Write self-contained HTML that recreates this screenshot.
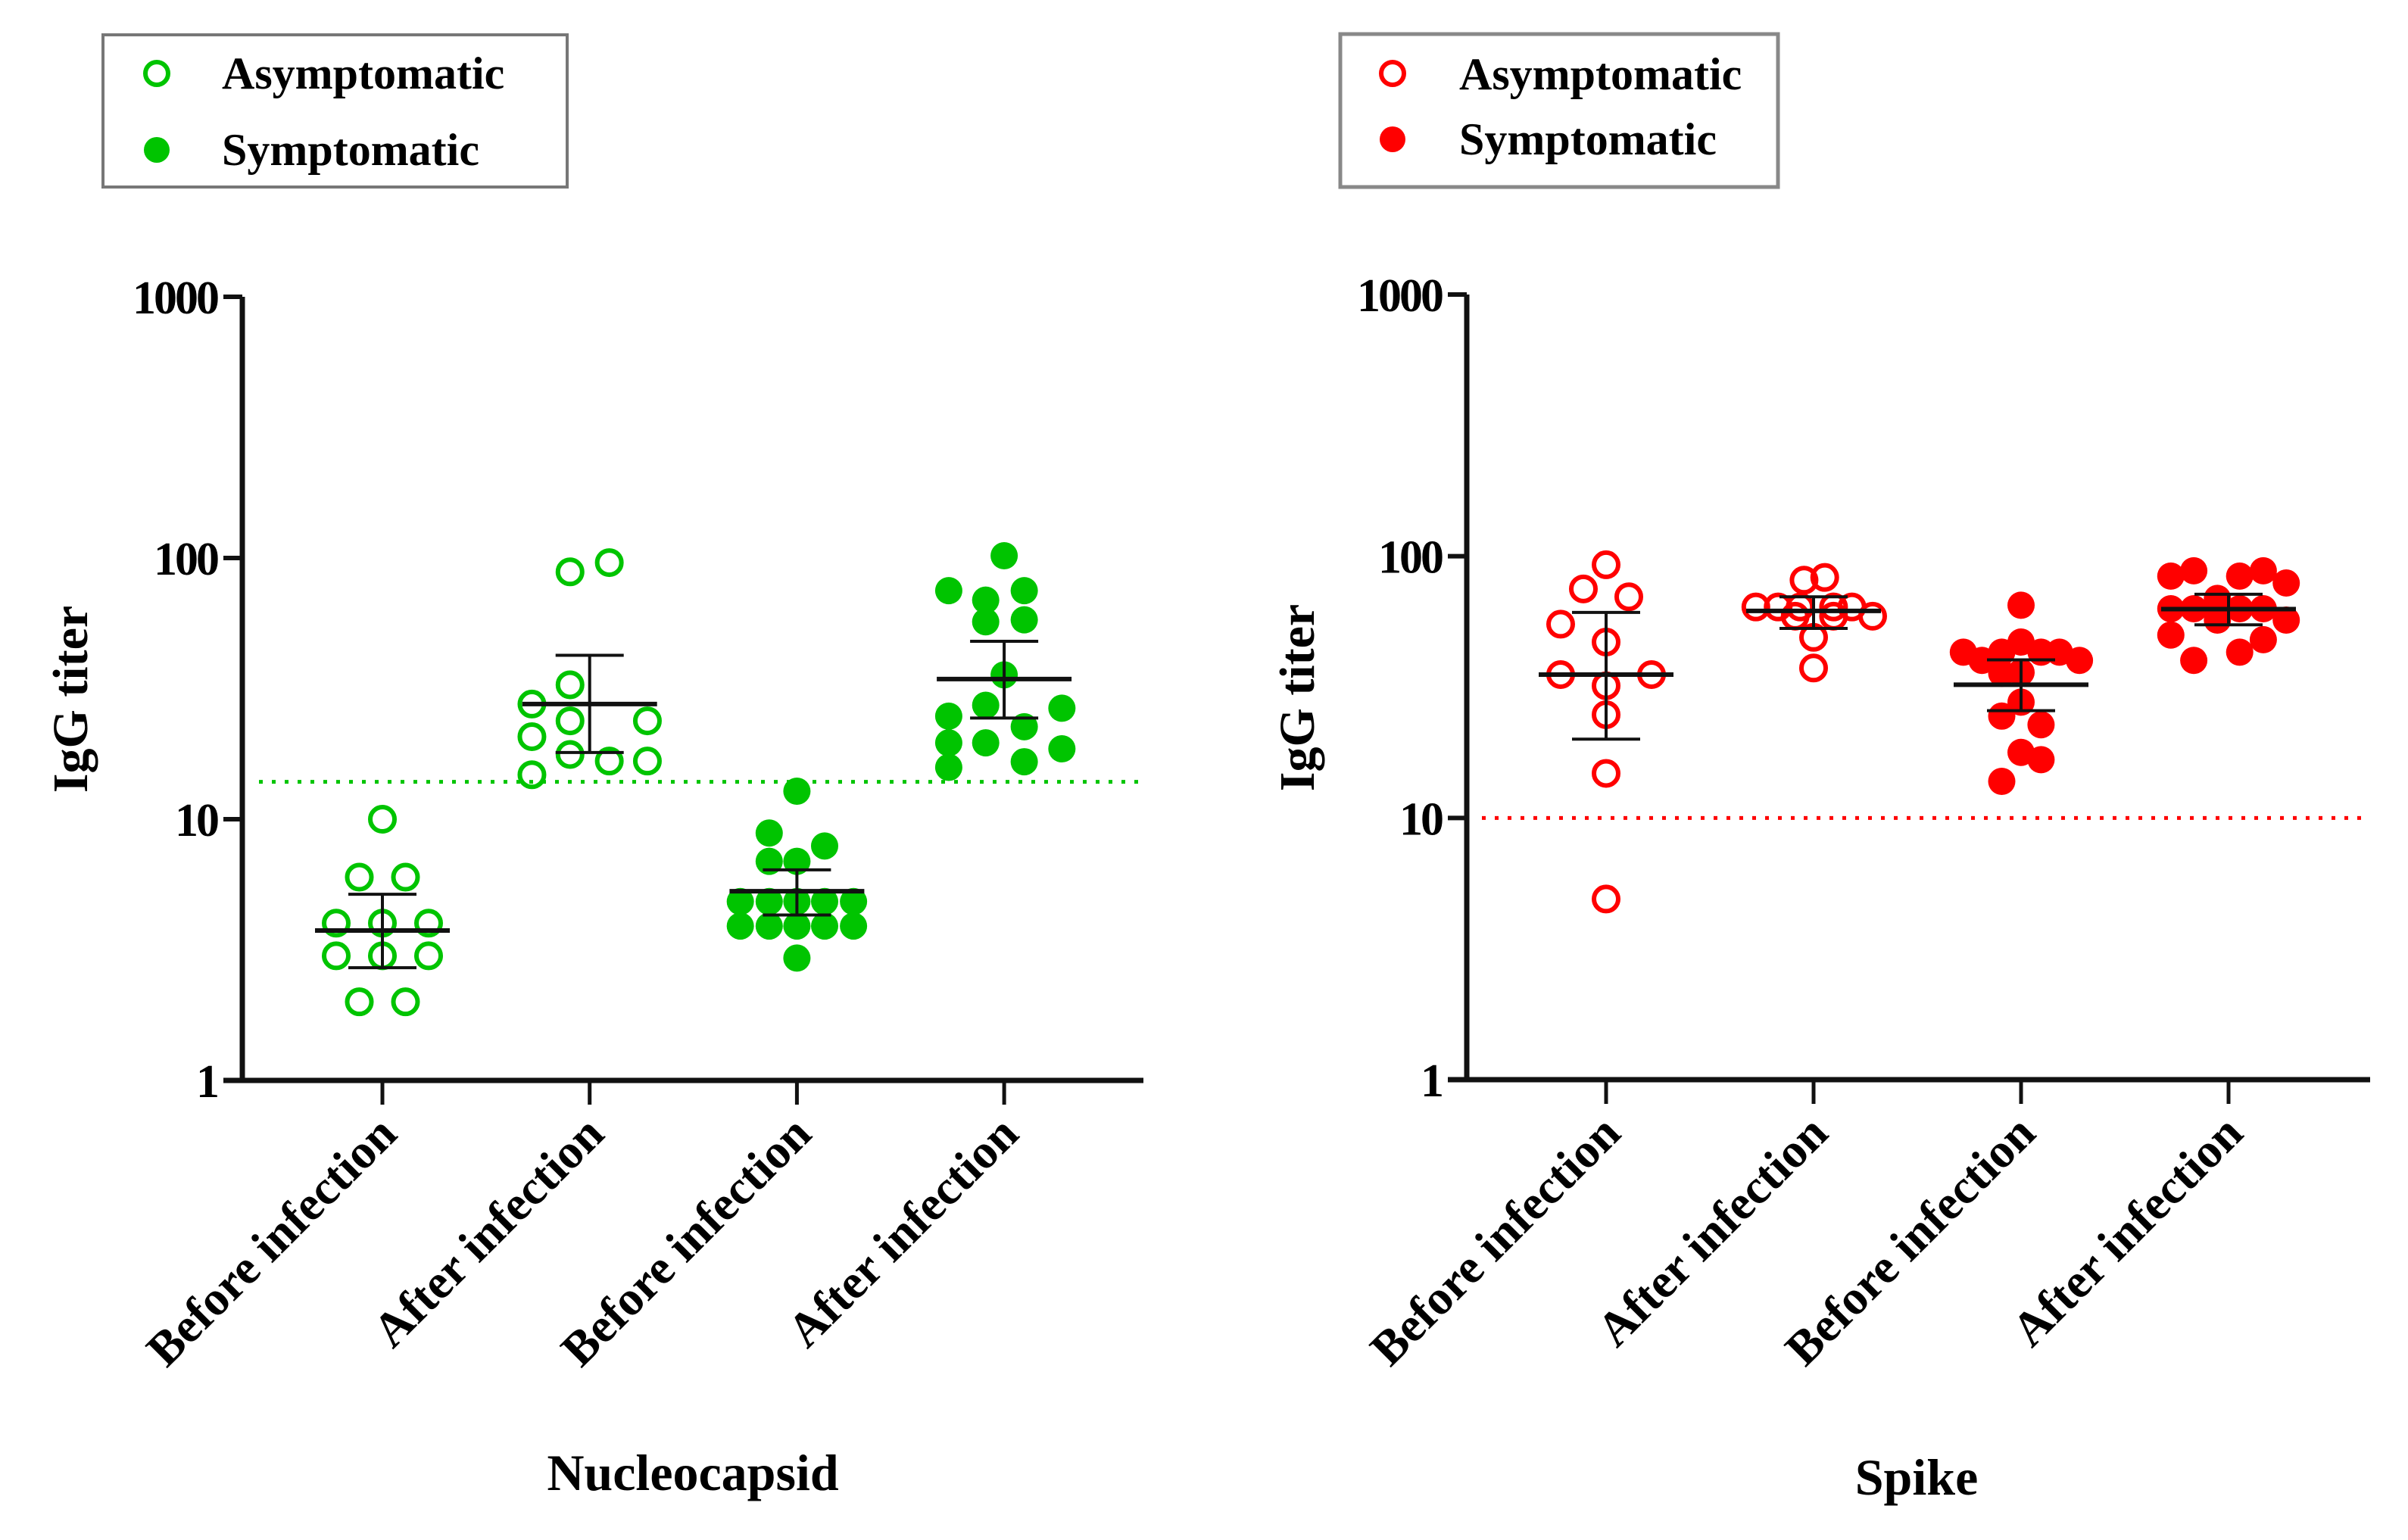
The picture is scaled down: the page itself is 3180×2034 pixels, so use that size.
<!DOCTYPE html>
<html><head><meta charset="utf-8"><style>
html,body{margin:0;padding:0;background:#fff;}
svg{display:block;font-family:"Liberation Serif",serif;font-weight:bold;}
</style></head><body>
<svg id="chart" width="3180" height="2034" viewBox="0 0 3180 2034" xmlns="http://www.w3.org/2000/svg">
<rect width="3180" height="2034" fill="#fff"/>
<g>
<rect x="136" y="46" width="613" height="201" fill="#fff" stroke="#777" stroke-width="4"/>
<circle cx="207" cy="97" r="15" fill="none" stroke="#00c400" stroke-width="6"/>
<text x="293" y="117" font-size="60">Asymptomatic</text>
<circle cx="207" cy="198" r="17" fill="#00c400"/>
<text x="293" y="218" font-size="60">Symptomatic</text>
</g>
<g>
<rect x="1770" y="45" width="578" height="202" fill="#fff" stroke="#888" stroke-width="5"/>
<circle cx="1839" cy="97" r="15" fill="none" stroke="#f00" stroke-width="6"/>
<text x="1927" y="118" font-size="60">Asymptomatic</text>
<circle cx="1839" cy="184" r="17" fill="#f00"/>
<text x="1927" y="204" font-size="60">Symptomatic</text>
</g>
</svg>
<script>
const categories = ["Before infection","After infection","Before infection","After infection"];
const yTickValues = [1,10,100,1000];
const yTickLabels = ["1","10","100","1000"];

const nucG1Values = [10,6,6,4,4,4,3,3,3,2,2];
const nucG1Jitter = [0,-1,1,-2,0,2,-2,0,2,-1,1];
const nucG2Values = [88.5,96,32.7,27.6,23.8,23.8,20.7,17.7,16.7,16.7,14.8];
const nucG2Jitter = [-0.85,0.85,-0.85,-2.5,-0.85,2.5,-2.5,-0.85,0.85,2.5,-2.5];
const nucG3Values = [12.8,8.85,7.9,6.9,6.9,4.84,4.84,4.84,4.84,4.84,3.9,3.9,3.9,3.9,3.9,2.94];
const nucG3Jitter = [0,-1.2,1.2,-1.2,0,-2.45,-1.2,0,1.2,2.45,-2.45,-1.2,0,1.2,2.45,0];
const nucG4Values = [102,75,75,69,57,58,35.7,24.8,27.3,26.6,22.6,19.6,19.6,18.6,16.6,15.8];
const nucG4Jitter = [0,-2.4,0.87,-0.8,-0.8,0.87,0,-2.4,-0.8,2.5,0.87,-2.4,-0.8,2.5,0.87,-2.4];
const nucMeans = [3.75,27.6,5.3,34.4];
const nucErrHigh = [5.16,42.4,6.4,48];
const nucErrLow = [2.7,18,4.3,24.4];
const nucThreshold = 13.9;

const spkG1Values = [92.8,75,70,55,47,35.3,35.3,32,24.8,14.8,4.9];
const spkG1Jitter = [0,-1,1,-2,0,-2,2,0,0,0,0];
const spkG2Values = [81,83,64,64,64,64,64,59,59,59,49,37.4];
const spkG2Jitter = [-0.42,0.49,-2.54,-1.56,-0.59,0.88,1.69,-0.81,0.88,2.6,0,0];
const spkG3Values = [65,47,43,43,43,43,40,40,35.7,36,27.7,24.5,22.7,17.8,16.7,13.8];
const spkG3Jitter = [0,0,-2.54,-0.85,0.88,1.69,-1.72,2.57,-0.85,0,0,-0.85,0.88,0,0.88,-0.85];
const spkG4Values = [88,88,84,84,79,69,63,63,63,63,57,57,50,48,43,40];
const spkG4Jitter = [-1.53,1.53,-2.54,0.49,2.54,-0.49,-2.54,-1.53,0.49,1.53,-0.49,2.54,-2.54,1.53,0.49,-1.53];
const spkMeans = [35.3,61.8,32.3,62.8];
const spkErrHigh = [61,70,40.2,71.6];
const spkErrLow = [20,53,25.7,54.7];
const spkThreshold = 10;

const NS = "http://www.w3.org/2000/svg";
const svg = document.getElementById('chart');
function mk(tag, attrs, parent){
  const e = document.createElementNS(NS, tag);
  for (const k in attrs) e.setAttribute(k, attrs[k]);
  (parent||svg).appendChild(e);
  return e;
}

function drawPanel(cfg){
  const g = mk('g', {});
  
  
  const yScale = v => cfg.yBottom - (cfg.yBottom - cfg.yTop) * Math.log10(v) / 3;
  const xScale = i => cfg.cat0 + i * cfg.catStep;
  const th = mk('line', {x1: cfg.thX1, x2: cfg.thX2, y1: yScale(cfg.threshold), y2: yScale(cfg.threshold), stroke: cfg.color, 'stroke-width': 5, 'stroke-dasharray': '5 12'}, g);
  
  
  cfg.groups.forEach((grp, gi) => {
    grp.values.forEach((v, pi) => {
      const open = gi < 2;
      const c = mk('circle', {cx: xScale(gi) + grp.jitter[pi] * cfg.unit, cy: yScale(v), r: open ? 16 : 18,
        fill: open ? 'none' : cfg.color, stroke: open ? cfg.color : 'none', 'stroke-width': 6}, g);
      
      
    });
  });
  cfg.means.forEach((m, i) => {
    const x = xScale(i);
    const vl = mk('line', {x1: x, x2: x, y1: yScale(cfg.hi[i]), y2: yScale(cfg.lo[i]), stroke: '#111', 'stroke-width': 4}, g);
    
    
    [cfg.hi[i], cfg.lo[i]].forEach(v => {
      const cap = mk('line', {x1: x - 45, x2: x + 45, y1: yScale(v), y2: yScale(v), stroke: '#111', 'stroke-width': 4}, g);
      
      
    });
    const ml = mk('line', {x1: x - 89, x2: x + 89, y1: yScale(m), y2: yScale(m), stroke: '#111', 'stroke-width': 6}, g);
    
    
  });
  const ya = mk('line', {x1: cfg.axisX, x2: cfg.axisX, y1: cfg.yTop, y2: cfg.yBottom + 3, stroke: '#111', 'stroke-width': 7}, g);
  
  
  const xa = mk('line', {x1: cfg.axisX - 25, x2: cfg.xEnd, y1: cfg.yBottom, y2: cfg.yBottom, stroke: '#111', 'stroke-width': 7}, g);
  
  
  yTickValues.forEach((v, i) => {
    const y = yScale(v);
    const t = mk('line', {x1: cfg.axisX - 25, x2: cfg.axisX, y1: y, y2: y, stroke: '#111', 'stroke-width': 6}, g);
    
    
    const lb = mk('text', {x: cfg.axisX - 33, y: y + 22, 'text-anchor': 'end', 'font-size': 62, 'letter-spacing': -3}, g);
    lb.textContent = yTickLabels[i];
    
    
  });
  categories.forEach((c, i) => {
    const x = xScale(i);
    const t = mk('line', {x1: x, x2: x, y1: cfg.yBottom, y2: cfg.yBottom + 32, stroke: '#111', 'stroke-width': 5}, g);
    
    
    const lb = mk('text', {x: 0, y: 0, 'text-anchor': 'end', 'font-size': 64,
      transform: `translate(${x + 22},${cfg.yBottom + 74}) rotate(-45)`}, g);
    lb.textContent = c;
    
    
  });
  const yt = mk('text', {x: 0, y: 0, 'text-anchor': 'middle', 'font-size': 66,
    transform: `translate(${cfg.yTitleX},${(cfg.yTop + cfg.yBottom) / 2 + 14}) rotate(-90)`}, g);
  yt.textContent = 'IgG titer';
  
  
  const xt = mk('text', {x: cfg.xTitleX, y: cfg.xTitleY, 'text-anchor': 'middle', 'font-size': 68}, g);
  xt.textContent = cfg.title;
  
  
}

drawPanel({name: 'nucleocapsid-panel', color: '#00c400', yTop: 392, yBottom: 1427, axisX: 320, xEnd: 1510,
  cat0: 505, catStep: 273.7, unit: 30.5, thX1: 342, thX2: 1512, threshold: nucThreshold,
  groups: [{values: nucG1Values, jitter: nucG1Jitter}, {values: nucG2Values, jitter: nucG2Jitter},
           {values: nucG3Values, jitter: nucG3Jitter}, {values: nucG4Values, jitter: nucG4Jitter}],
  means: nucMeans, hi: nucErrHigh, lo: nucErrLow, yTitleX: 115, xTitleX: 915, xTitleY: 1968, title: 'Nucleocapsid'});

drawPanel({name: 'spike-panel', color: '#f00', yTop: 389, yBottom: 1426, axisX: 1937, xEnd: 3130,
  cat0: 2121, catStep: 274, unit: 30, thX1: 1957, thX2: 3125, threshold: spkThreshold,
  groups: [{values: spkG1Values, jitter: spkG1Jitter}, {values: spkG2Values, jitter: spkG2Jitter},
           {values: spkG3Values, jitter: spkG3Jitter}, {values: spkG4Values, jitter: spkG4Jitter}],
  means: spkMeans, hi: spkErrHigh, lo: spkErrLow, yTitleX: 1735, xTitleX: 2531, xTitleY: 1974, title: 'Spike'});
</script>
</body></html>
